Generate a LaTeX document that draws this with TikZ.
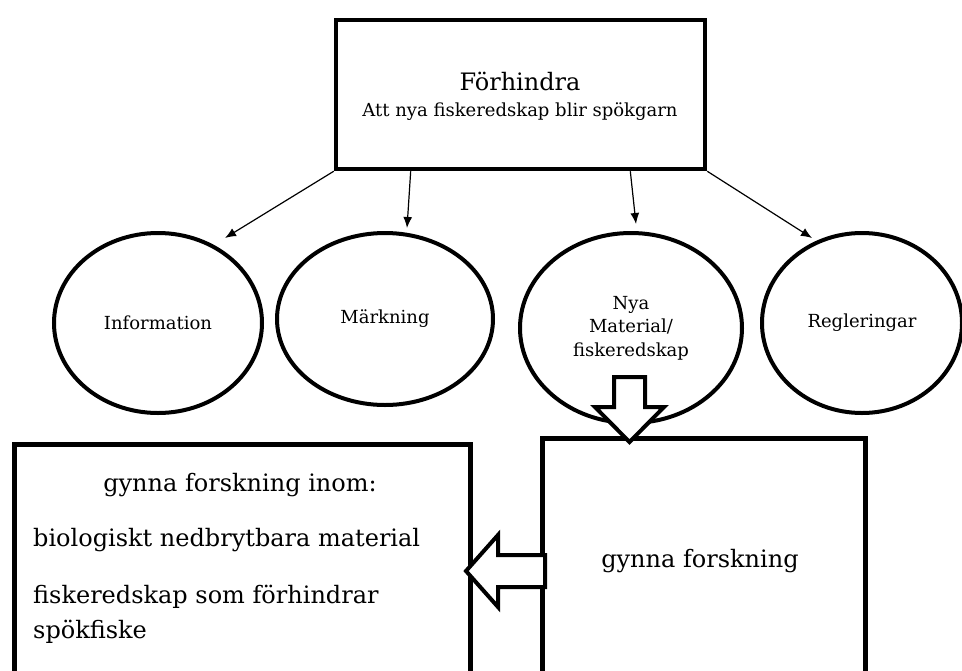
\documentclass[tikz,border=0pt]{standalone}
\usepackage{fontspec}
\setmainfont{DejaVu Serif}
\usetikzlibrary{arrows.meta,shapes.geometric,calc}
\begin{document}
\begin{tikzpicture}[x=1pt,y=-1pt,
  box/.style={draw,line width=4.5pt,inner sep=0pt},
  oval/.style={ellipse,draw,line width=4pt,inner sep=0pt,align=center,
               font=\fontsize{18}{23.5}\selectfont},
  link/.style={line width=1.2pt,-{Latex[length=11pt,width=9pt]}},
  blockarrow/.style={draw,fill=white,line width=4pt,line join=miter},
  txt/.style={inner sep=0pt,anchor=base},
  bigtxt/.style={txt,font=\fontsize{24}{33}\selectfont}]
\useasboundingbox (0,0) rectangle (962,670);
\clip (0,0) rectangle (962,670);

% goal box
\node[box,minimum width=369pt,minimum height=149pt] (top) at (520.5,94.5) {};
\node[txt,font=\fontsize{24}{28}\selectfont] (toptitle) at (520,90) {Förhindra};
\node[txt,font=\fontsize{18}{22}\selectfont] (topsub) at (520,116) {Att nya fiskeredskap blir spökgarn};

% measures
\node[oval,minimum width=208pt,minimum height=180pt] (info) at (158,323) {Information};
\node[oval,minimum width=216pt,minimum height=172pt] (mark) at (385,319) {Märkning};
\node[oval,minimum width=222pt,minimum height=190pt] (nya) at (631,328) {Nya\\Material/\\fiskeredskap};
\node[oval,minimum width=200pt,minimum height=180pt] (regl) at (862,323) {Regleringar};

% arrow tips above the ellipses
\coordinate (t1) at (225,238);
\coordinate (t2) at (407,228);
\coordinate (t3) at (636,224);
\coordinate (t4) at (812,238);

\draw[link] (top.south west) -- (t1);
\draw[link] ($(top.south west)!0.206!(top.south east)$) -- (t2);
\draw[link] ($(top.south west)!0.794!(top.south east)$) -- (t3);
\draw[link] (top.south east) -- (t4);

% research boxes
\node[box,anchor=north west,minimum width=456pt,minimum height=280pt] (leftbox) at (12,442) {};
\node[box,anchor=north west,minimum width=323pt,minimum height=280pt] (rightbox) at (540,436) {};

\node[bigtxt] (lt1) at (240,491) {gynna forskning inom:};
\node[bigtxt,anchor=base west] (lt2) at (33,546) {biologiskt nedbrytbara material};
\node[bigtxt,anchor=base west] (lt3) at (33,603) {fiskeredskap som förhindrar};
\node[bigtxt,anchor=base west] (lt4) at (33,638) {spökfiske};
\node[bigtxt] (rt1) at (700,567) {gynna forskning};

% block arrows
\coordinate (dn) at (629.5,442);
\draw[blockarrow] (dn) -- ++(-34.5,-35) -- ++(19,0) -- ++(0,-30) -- ++(31,0)
  -- ++(0,30) -- ++(19,0) -- cycle;
\coordinate (lf) at (466,571);
\draw[blockarrow] (lf) -- ++(32,-36) -- ++(0,20) -- ++(47,0) -- ++(0,32)
  -- ++(-47,0) -- ++(0,20) -- cycle;
\end{tikzpicture}
\end{document}
